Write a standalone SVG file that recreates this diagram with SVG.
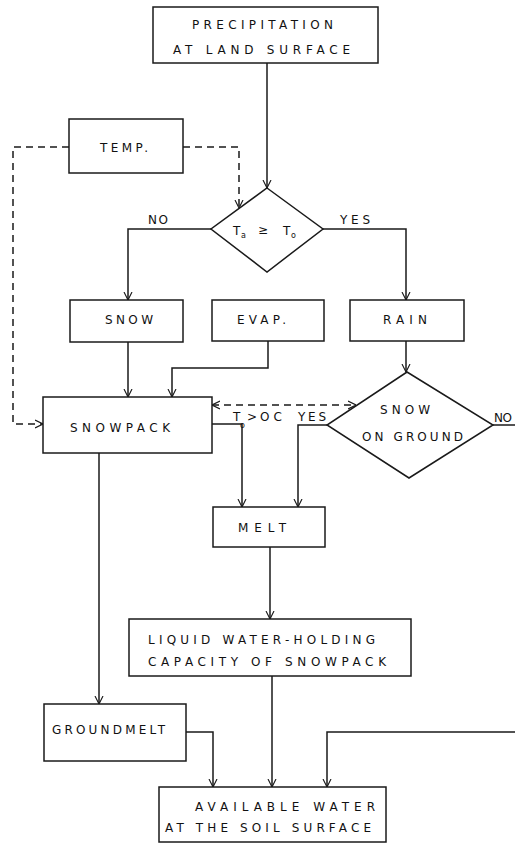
<svg xmlns="http://www.w3.org/2000/svg" width="515" height="843" viewBox="0 0 515 843">
<style>
.box{fill:none;stroke:#1a1a1a;stroke-width:1.5}
.ln{fill:none;stroke:#1a1a1a;stroke-width:1.5;marker-end:url(#arr)}
.dash{stroke-dasharray:7 5}
text{font-family:"DejaVu Sans","Liberation Sans",sans-serif;font-size:12px;fill:#111}
.sub{font-size:8px}
</style>
<defs>
<marker id="arr" viewBox="0 0 10 10" refX="10" refY="5" markerWidth="8" markerHeight="11" markerUnits="userSpaceOnUse" orient="auto-start-reverse">
<path d="M0,0 L10,5 L0,10" fill="none" stroke="#1a1a1a" stroke-width="1.4"/>
</marker>
</defs>
<rect width="515" height="843" fill="#fff"/>
<g id="connectors">
<path class="ln" d="M267,63 V188"/>
<path class="ln dash" d="M183,147 H239 V208"/>
<path class="ln dash" d="M69,147 H13 V424 H43"/>
<path class="ln" d="M211,229 H128 V300"/>
<path class="ln" d="M323,229 H406 V300"/>
<path class="ln" d="M128,342 V397"/>
<path class="ln" d="M268,341 V368 H172 V397"/>
<path class="ln" d="M406,341 V372"/>
<path class="ln dash" d="M212,405 H356" style="marker-start:url(#arr)"/>
<path class="ln" d="M212,424 H242 V507"/>
<path class="ln" d="M327,425 H298 V507"/>
<path class="ln" d="M493,425 H515" style="marker-end:none"/>
<path class="ln" d="M270,547 V619"/>
<path class="ln" d="M99,453 V704"/>
<path class="ln" d="M186,732 H213 V787"/>
<path class="ln" d="M272,676 V787"/>
<path class="ln" d="M515,732 H327 V787"/>
<text x="148" y="224" textLength="20" lengthAdjust="spacing">NO</text>
<text x="340" y="224" textLength="30" lengthAdjust="spacing">YES</text>
<text x="233" y="421">T</text>
<text class="sub" x="240" y="428">o</text>
<text x="247" y="421">&gt;</text>
<text x="260" y="421" textLength="22" lengthAdjust="spacing">OC</text>
<text x="298" y="421" textLength="28" lengthAdjust="spacing">YES</text>
<text x="494" y="422" textLength="18" lengthAdjust="spacing">NO</text>
</g>
<g id="precipitation">
<rect class="box" x="153" y="7" width="225" height="56"/>
<text x="192" y="29" textLength="141" lengthAdjust="spacing">PRECIPITATION</text>
<text x="173" y="54" textLength="177" lengthAdjust="spacing">AT LAND SURFACE</text>
</g>
<g id="temp">
<rect class="box" x="69" y="119" width="114" height="54"/>
<text x="100" y="152" textLength="48" lengthAdjust="spacing">TEMP.</text>
</g>
<g id="decision-temp">
<polygon class="box" points="267,188 323,229 267,272 211,229"/>
<text x="233" y="235">T</text>
<text class="sub" x="241" y="238">a</text>
<text x="258" y="234">≥</text>
<text x="283" y="235">T</text>
<text class="sub" x="291" y="238">o</text>
</g>
<g id="snow">
<rect class="box" x="70" y="300" width="113" height="42"/>
<text x="105" y="324" textLength="48" lengthAdjust="spacing">SNOW</text>
</g>
<g id="evap">
<rect class="box" x="212" y="300" width="112" height="41"/>
<text x="237" y="324" textLength="49" lengthAdjust="spacing">EVAP.</text>
</g>
<g id="rain">
<rect class="box" x="350" y="300" width="114" height="41"/>
<text x="383" y="324" textLength="44" lengthAdjust="spacing">RAIN</text>
</g>
<g id="snowpack">
<rect class="box" x="43" y="397" width="169" height="56"/>
<text x="70" y="432" textLength="100" lengthAdjust="spacing">SNOWPACK</text>
</g>
<g id="snow-on-ground">
<polygon class="box" points="407,372 493,425 409,478 327,425"/>
<text x="380" y="414" textLength="50" lengthAdjust="spacing">SNOW</text>
<text x="362" y="441" textLength="101" lengthAdjust="spacing">ON GROUND</text>
</g>
<g id="melt">
<rect class="box" x="213" y="507" width="112" height="40"/>
<text x="238" y="532" textLength="48" lengthAdjust="spacing">MELT</text>
</g>
<g id="liquid-water">
<rect class="box" x="129" y="619" width="282" height="57"/>
<text x="148" y="644" textLength="227" lengthAdjust="spacing">LIQUID WATER-HOLDING</text>
<text x="148" y="666" textLength="238" lengthAdjust="spacing">CAPACITY OF SNOWPACK</text>
</g>
<g id="groundmelt">
<rect class="box" x="44" y="704" width="142" height="57"/>
<text x="52" y="734" textLength="113" lengthAdjust="spacing">GROUNDMELT</text>
</g>
<g id="available-water">
<rect class="box" x="159" y="787" width="227" height="55"/>
<text x="195" y="811" textLength="180" lengthAdjust="spacing">AVAILABLE WATER</text>
<text x="165" y="832" textLength="206" lengthAdjust="spacing">AT THE SOIL SURFACE</text>
</g>
</svg>
